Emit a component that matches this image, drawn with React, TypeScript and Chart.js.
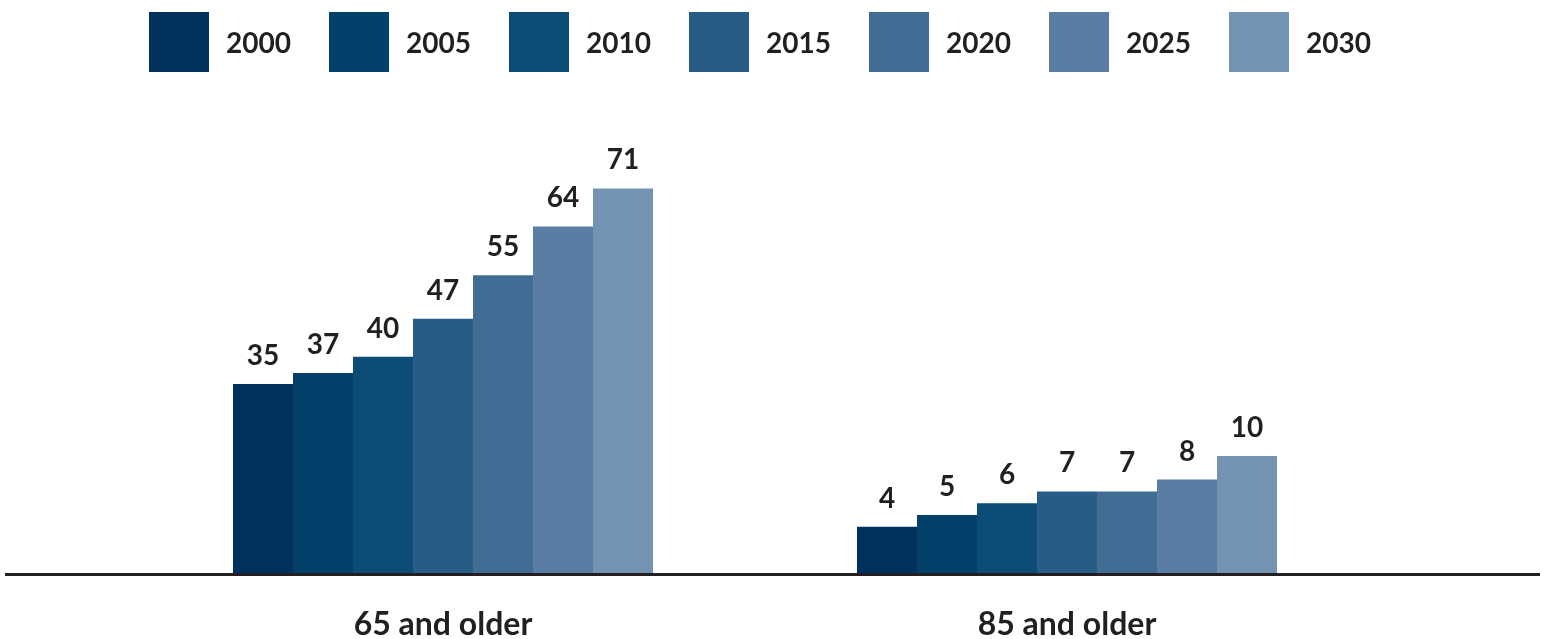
import { useEffect, useRef } from 'react';
import { Chart, registerables } from 'chart.js';

Chart.register(...registerables);

// ---- Data ----
const categories = ['65 and older', '85 and older'];
const years = ['2000', '2005', '2010', '2015', '2020', '2025', '2030'];
const values65 = [35, 37, 40, 47, 55, 64, 71];
const values85 = [4, 5, 6, 7, 7, 8, 10];
const colors = ['#02315b', '#03416a', '#0b4d77', '#265c85', '#416d94', '#5a7ea3', '#7393b3'];

const TEXT = '#231f20';
const FONT = 'Lato, "Open Sans", sans-serif';

const legendPlugin = {
  id: 'customLegend',
  afterDraw(chart: any) {
    const ctx = chart.ctx;
    ctx.save();
    ctx.font = `bold 28px ${FONT}`;
    ctx.textAlign = 'left';
    ctx.textBaseline = 'alphabetic';
    years.forEach((yr, i) => {
      const x = 149 + i * 180;
      ctx.fillStyle = colors[i];
      ctx.fillRect(x, 12, 60, 60);
      ctx.fillStyle = TEXT;
      ctx.fillText(yr, x + 77, 53);
    });
    ctx.restore();
  },
};

const valueLabelPlugin = {
  id: 'valueLabels',
  afterDatasetsDraw(chart: any) {
    const ctx = chart.ctx;
    ctx.save();
    ctx.font = `bold 28px ${FONT}`;
    ctx.textAlign = 'center';
    ctx.textBaseline = 'alphabetic';
    ctx.fillStyle = TEXT;
    chart.data.datasets.forEach((ds: any, di: number) => {
      const meta = chart.getDatasetMeta(di);
      meta.data.forEach((el: any, idx: number) => {
        const v = ds.data[idx];
        if (v === null || v === undefined) return;
        ctx.fillText(String(v), el.x, el.y - 19);
      });
    });
    ctx.restore();
  },
};

const baselinePlugin = {
  id: 'baseline',
  afterDatasetsDraw(chart: any) {
    const ctx = chart.ctx;
    const y = chart.scales.y.getPixelForValue(0);
    ctx.save();
    ctx.strokeStyle = TEXT;
    ctx.lineWidth = 3;
    ctx.beginPath();
    ctx.moveTo(5, y + 0.5);
    ctx.lineTo(chart.width - 2, y + 0.5);
    ctx.stroke();
    ctx.restore();
  },
};

export default function App() {
  const ref = useRef<HTMLCanvasElement | null>(null);

  useEffect(() => {
    if (!ref.current) return;
    const datasets: any[] = [];
    years.forEach((yr, i) => {
      datasets.push({
        label: yr,
        data: [values65[i], null],
        backgroundColor: colors[i],
        yAxisID: 'y',
        categoryPercentage: 420 / 624,
        barPercentage: 1,
        borderWidth: 0,
        skipNull: true,
      });
    });
    years.forEach((yr, i) => {
      datasets.push({
        label: yr,
        data: [null, values85[i]],
        backgroundColor: colors[i],
        yAxisID: 'y2',
        categoryPercentage: 420 / 624,
        barPercentage: 1,
        borderWidth: 0,
        skipNull: true,
      });
    });

    const chart = new Chart(ref.current, {
      type: 'bar',
      data: { labels: categories, datasets },
      options: {
        animation: false,
        responsive: false,
        devicePixelRatio: 1,
        layout: { padding: { left: 131, right: 163, top: 120, bottom: 0 } },
        plugins: {
          legend: { display: false },
          tooltip: { enabled: false },
        },
        scales: {
          x: {
            grid: { display: false },
            border: { display: false },
            ticks: {
              color: TEXT,
              padding: 23,
              font: { family: FONT, size: 32, weight: 'bold' },
            },
            afterFit: (s: any) => {
              s.height = 65;
            },
          },
          y: { display: false, min: 0, max: 454 / 5.43 },
          y2: { display: false, min: 0, max: 454 / 11.8 },
        },
      } as any,
      plugins: [legendPlugin, valueLabelPlugin, baselinePlugin],
    });
    return () => chart.destroy();
  }, []);

  return (
    <div style={{ position: 'fixed', left: 0, top: 0, width: 1542, height: 639, background: '#fff' }}>
      <canvas ref={ref} width={1542} height={639} style={{ display: 'block' }} />
    </div>
  );
}
